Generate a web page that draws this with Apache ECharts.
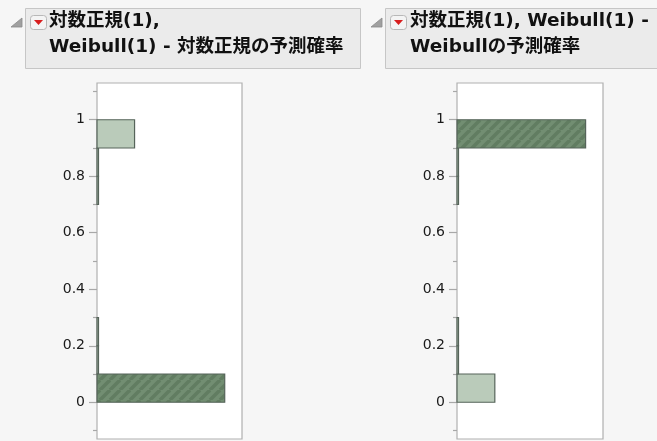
<!DOCTYPE html>
<html>
<head>
<meta charset="utf-8">
<script src="https://cdn.jsdelivr.net/npm/echarts@6/dist/echarts.min.js"></script>
<style>
html,body{margin:0;padding:0;background:#f6f6f6;}
#c{width:657px;height:441px;}
</style>
</head>
<body>
<div id="c"></div>
<script>
// ---- data ----
const binStart = [0, 0.1, 0.2, 0.3, 0.4, 0.5, 0.6, 0.7, 0.8, 0.9];
const binEnd   = [0.1, 0.2, 0.3, 0.4, 0.5, 0.6, 0.7, 0.8, 0.9, 1.0];
const leftSelected    = [85, 0, 0, 0, 0, 0, 0, 0, 0, 0];
const leftUnselected  = [0, 1, 1, 0, 0, 0, 0, 1, 1, 25];
const rightSelected   = [0, 0, 0, 0, 0, 0, 0, 0, 0, 85];
const rightUnselected = [25, 1, 1, 0, 0, 0, 0, 1, 1, 0];
const majorTicks = [0, 0.2, 0.4, 0.6, 0.8, 1];
const minorTicks = [-0.1, 0.1, 0.3, 0.5, 0.7, 0.9, 1.1];
const leftTitle  = ['対数正規(1),', 'Weibull(1) - 対数正規の予測確率'];
const rightTitle = ['対数正規(1), Weibull(1) -', 'Weibullの予測確率'];

function toData(counts) {
  const out = [];
  counts.forEach((c, i) => { if (c > 0) out.push([binStart[i], binEnd[i], c]); });
  return out;
}

// hatch pattern
const pc = document.createElement('canvas');
pc.width = 10; pc.height = 10;
const g = pc.getContext('2d');
g.fillStyle = '#728e72';
g.fillRect(0, 0, 10, 10);
g.strokeStyle = '#617d61';
g.lineWidth = 3.5;
for (let k = -10; k <= 20; k += 10) {
  g.beginPath(); g.moveTo(k, 10); g.lineTo(k + 10, 0); g.stroke();
}
const hatch = { image: pc, repeat: 'repeat' };

function makeRender(fill) {
  return function (params, api) {
    const y0 = api.value(0), y1 = api.value(1), c = api.value(2);
    const p0 = api.coord([0, y0]);
    const p1 = api.coord([c, y1]);
    return {
      type: 'rect',
      shape: { x: p0[0], y: p1[1], width: p1[0] - p0[0], height: p0[1] - p1[1] },
      style: { fill: fill, stroke: '#56645a', lineWidth: 1.2 }
    };
  };
}

const lightFill = '#bacbba';
const tickColor = '#a8a8a8';
const labelFont = { fontFamily: 'DejaVu Sans', fontSize: 14, color: '#1a1a1a' };

function yAxes(gi) {
  return [
    {
      type: 'value', gridIndex: gi, min: -0.13, max: 1.13, position: 'left',
      axisLine: { show: false },
      axisTick: { show: true, length: 8, customValues: majorTicks, lineStyle: { color: tickColor, width: 1.2 } },
      axisLabel: Object.assign({ show: true, margin: 12, customValues: majorTicks }, labelFont),
      splitLine: { show: false }
    },
    {
      type: 'value', gridIndex: gi, min: -0.13, max: 1.13, position: 'left', offset: 0,
      axisLine: { show: false },
      axisTick: { show: true, length: 4, customValues: minorTicks, lineStyle: { color: tickColor, width: 1.2 } },
      axisLabel: { show: false },
      splitLine: { show: false }
    }
  ];
}

function header(x0, boxW, lines, textX) {
  const font = 'bold 18.5px "DejaVu Sans", "Noto Sans CJK JP", sans-serif';
  return [
    { type: 'rect', shape: { x: x0 + 0.5, y: 8.5, width: boxW, height: 60 },
      style: { fill: '#ebebeb', stroke: '#c6c6c6', lineWidth: 1 } },
    { type: 'polygon', shape: { points: [[x0 - 14, 27], [x0 - 3, 27], [x0 - 3, 18]] },
      style: { fill: '#a0a0a0', stroke: '#8a8a8a', lineWidth: 0.8 } },
    { type: 'rect', shape: { x: x0 + 5.5, y: 15.5, width: 16, height: 14, r: 3 },
      style: { fill: '#f4f4f4', stroke: '#b8b8b8', lineWidth: 1 } },
    { type: 'polygon', shape: { points: [[x0 + 9, 20], [x0 + 18, 20], [x0 + 13.5, 25]] },
      style: { fill: '#d81e1e' } },
    { type: 'text', x: textX, y: 21, style: { text: lines[0], font: font, fill: '#111', verticalAlign: 'middle' } },
    { type: 'text', x: textX, y: 47, style: { text: lines[1], font: font, fill: '#111', verticalAlign: 'middle' } }
  ];
}

const chart = echarts.init(document.getElementById('c'));
chart.setOption({
  backgroundColor: '#f6f6f6',
  animation: false,
  grid: [
    { left: 97, top: 83, width: 145, height: 356, show: true, backgroundColor: '#fff', borderColor: '#b0b0b0', borderWidth: 1.2 },
    { left: 457, top: 83, width: 146, height: 356, show: true, backgroundColor: '#fff', borderColor: '#b0b0b0', borderWidth: 1.2 }
  ],
  xAxis: [
    { type: 'value', gridIndex: 0, min: 0, max: 96.5, show: false },
    { type: 'value', gridIndex: 1, min: 0, max: 96.5, show: false }
  ],
  yAxis: yAxes(0).concat(yAxes(1)),
  graphic: header(25, 335, leftTitle, 49).concat(header(385, 290, rightTitle, 410)),
  series: [
    { type: 'custom', xAxisIndex: 0, yAxisIndex: 0, renderItem: makeRender(lightFill),
      encode: { x: 2, y: [0, 1] }, data: toData(leftUnselected) },
    { type: 'custom', xAxisIndex: 0, yAxisIndex: 0, renderItem: makeRender(hatch),
      encode: { x: 2, y: [0, 1] }, data: toData(leftSelected) },
    { type: 'custom', xAxisIndex: 1, yAxisIndex: 2, renderItem: makeRender(lightFill),
      encode: { x: 2, y: [0, 1] }, data: toData(rightUnselected) },
    { type: 'custom', xAxisIndex: 1, yAxisIndex: 2, renderItem: makeRender(hatch),
      encode: { x: 2, y: [0, 1] }, data: toData(rightSelected) }
  ]
});
</script>
</body>
</html>
